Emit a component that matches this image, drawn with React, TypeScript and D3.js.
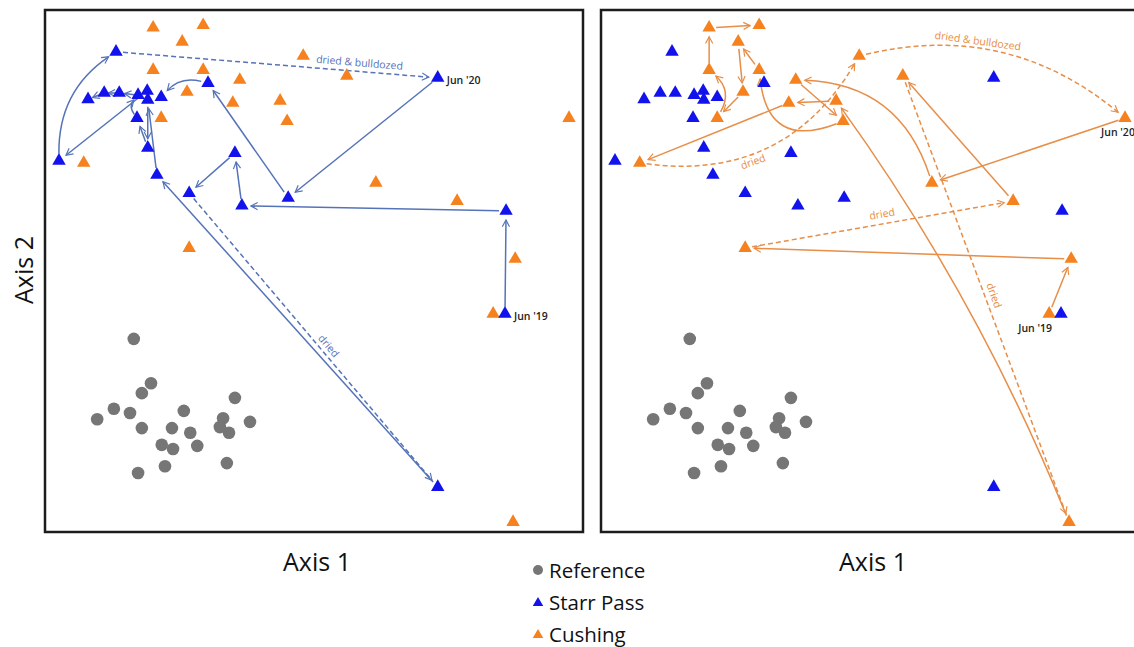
import React from 'react';
import * as d3 from 'd3';

// ordination scores (Axis 1, Axis 2), both axes scaled 0-100
const referenceSites: [number, number][] = [
  [16.5, 37.0], [19.7, 28.5], [18.0, 26.6], [12.8, 23.6], [15.8, 22.8], [9.7, 21.6],
  [18.0, 19.9], [23.6, 19.9], [25.8, 23.2], [27.0, 19.0], [21.7, 16.7], [23.8, 15.9],
  [28.3, 16.5], [22.3, 12.6], [17.3, 11.3], [35.3, 25.7], [33.1, 21.8], [32.5, 20.1],
  [34.2, 19.0], [38.1, 21.1], [33.8, 13.2],
];

const starrPass: [number, number][] = [
  [13.2, 92.0], [8.0, 82.9], [11.0, 84.1], [13.8, 84.1], [17.3, 83.7], [19.0, 84.5],
  [19.1, 82.8], [21.6, 83.3], [30.3, 86.0], [17.1, 79.3], [19.1, 73.6], [2.6, 71.1],
  [20.8, 68.4], [26.8, 64.9], [35.3, 72.6], [36.6, 62.5], [45.2, 64.0], [73.0, 87.0],
  [85.7, 61.5], [85.5, 41.8], [73.0, 8.6],
];

const cushing: [number, number][] = [
  [20.1, 96.6], [29.4, 97.1], [25.5, 93.9], [48.0, 91.2], [56.1, 87.4], [20.1, 88.5],
  [29.4, 88.5], [36.2, 86.6], [26.4, 84.3], [34.9, 82.2], [43.7, 82.6], [45.0, 78.7],
  [21.6, 79.3], [7.2, 70.7], [61.5, 66.9], [76.6, 63.4], [87.4, 52.3], [83.3, 41.8],
  [97.4, 79.3], [26.8, 54.4], [87.0, 1.9],
];

// trajectory steps: [from index, to index, dried (dashed)]
const starrPassSteps: [number, number, boolean][] = [
  [19, 18, false], [18, 15, false], [15, 14, false], [14, 13, false], [13, 20, true],
  [20, 12, false], [12, 6, false], [6, 10, false], [10, 9, false], [9, 4, false],
  [4, 3, false], [3, 2, false], [2, 1, false], [5, 11, false], [11, 0, false],
  [0, 17, true], [17, 16, false], [16, 8, false], [8, 7, false],
];

const cushingSteps: [number, number, boolean][] = [
  [17, 16, false], [16, 19, false], [19, 15, true], [15, 4, false], [4, 20, true],
  [20, 10, false], [10, 9, false], [9, 13, false], [13, 3, true], [3, 18, true],
  [18, 14, false], [14, 7, false], [7, 11, false], [11, 6, false], [6, 2, false],
  [2, 8, false], [8, 12, false], [12, 5, false], [5, 0, false], [0, 1, false],
];

// curvature of some steps, keyed "from-to"
const starrPassBends: Record<string, number> = { '11-0': 0.27, '8-7': -0.3, '9-4': 0.4 };
const cushingBends: Record<string, number> = {
  '20-10': -0.06, '13-3': -0.33, '3-18': 0.25, '14-7': -0.35, '11-6': 0.65, '12-5': -0.4,
};

// notes along dried steps: [from, to, text, t, offset]
const starrPassNotes: [number, number, string, number, number][] = [
  [0, 17, 'dried & bulldozed', 0.77, 8],
  [13, 20, 'dried', 0.54, 7],
];
const cushingNotes: [number, number, string, number, number][] = [
  [3, 18, 'dried & bulldozed', 0.41, 6],
  [13, 3, 'dried', 0.42, -8],
  [19, 15, 'dried', 0.52, 9],
  [4, 20, 'dried', 0.5, 8],
];

// date labels: [point index, text]
const starrPassDates: [number, string][] = [[17, "Jun '20"], [19, "Jun '19"]];
const cushingDates: [number, string][] = [[18, "Jun '20"], [17, "Jun '19"]];

const legendItems = ['Reference', 'Starr Pass', 'Cushing'];

const GREY = '#767676';
const BLUE = '#1212ec';
const ORANGE = '#f5821f';
const BLUE_LINE = '#5573b8';
const ORANGE_LINE = '#e78e48';
const FONT = '"Open Sans", Calibri, sans-serif';

const panelW = 538;
const panelTop = 10;
const panelBottom = 532;

type P = [number, number];

function stepGeometry(p0: P, p1: P, bend: number) {
  const dx = p1[0] - p0[0], dy = p1[1] - p0[1];
  const len = Math.hypot(dx, dy);
  const nx = dy / len, ny = -dx / len;
  const c: P = [(p0[0] + p1[0]) / 2 + bend * len * nx, (p0[1] + p1[1]) / 2 + bend * len * ny];
  const ax = c[0] - p0[0], ay = c[1] - p0[1], al = Math.hypot(ax, ay);
  const bx = p1[0] - c[0], by = p1[1] - c[1], bl = Math.hypot(bx, by);
  const r0 = Math.min(7, len * 0.2), r1 = Math.min(9, len * 0.28);
  const s: P = [p0[0] + (ax / al) * r0, p0[1] + (ay / al) * r0];
  const e: P = [p1[0] - (bx / bl) * r1, p1[1] - (by / bl) * r1];
  return { s, c, e };
}

const Panel = ({ x0, traj, steps, bends, notes, dates, lineColor, id, dateMode }: {
  x0: number; traj: P[]; steps: [number, number, boolean][]; bends: Record<string, number>;
  notes: [number, number, string, number, number][]; dates: [number, string][];
  lineColor: string; id: string; dateMode: 'right' | 'below';
}) => {
  const x = d3.scaleLinear().domain([0, 100]).range([x0, x0 + panelW]);
  const y = d3.scaleLinear().domain([0, 100]).range([panelBottom, panelTop]);
  const pos = (d: P): P => [x(d[0]), y(d[1])];
  const tri = d3.symbol().type(d3.symbolTriangle).size(78)();

  const stepPaths = steps.map(([a, b, dried]) => {
    const g = stepGeometry(pos(traj[a]), pos(traj[b]), bends[a + '-' + b] || 0);
    const p = d3.path();
    p.moveTo(g.s[0], g.s[1]);
    p.quadraticCurveTo(g.c[0], g.c[1], g.e[0], g.e[1]);
    return { d: p.toString(), dried, key: a + '-' + b };
  });

  const noteEls = notes.map(([a, b, text, t, off]) => {
    const g = stepGeometry(pos(traj[a]), pos(traj[b]), bends[a + '-' + b] || 0);
    const u = 1 - t;
    const px = u * u * g.s[0] + 2 * u * t * g.c[0] + t * t * g.e[0];
    const py = u * u * g.s[1] + 2 * u * t * g.c[1] + t * t * g.e[1];
    const tx = 2 * u * (g.c[0] - g.s[0]) + 2 * t * (g.e[0] - g.c[0]);
    const ty = 2 * u * (g.c[1] - g.s[1]) + 2 * t * (g.e[1] - g.c[1]);
    const tl = Math.hypot(tx, ty);
    const lx = px + (ty / tl) * off, ly = py + (-tx / tl) * off;
    let ang = (Math.atan2(ty, tx) * 180) / Math.PI;
    if (ang > 90) ang -= 180;
    if (ang < -90) ang += 180;
    return (
      <text key={text + a} transform={`translate(${lx},${ly}) rotate(${ang})`} textAnchor="middle"
        dominantBaseline="middle" fontSize={10.5} fill={lineColor} fontFamily={FONT}>{text}</text>
    );
  });

  return (
    <g>
      <defs>
        <marker id={'head-' + id} viewBox="0 0 10 10" refX={8.5} refY={5} markerWidth={9} markerHeight={9}
          markerUnits="userSpaceOnUse" orient="auto">
          <path d="M1,1 L8.5,5 L1,9" fill="none" stroke={lineColor} strokeWidth={1.3} />
        </marker>
      </defs>
      {referenceSites.map((d, i) => (
        <circle key={'r' + i} cx={x(d[0])} cy={y(d[1])} r={6.3} fill={GREY} />
      ))}
      {stepPaths.map(s => (
        <path key={s.key} d={s.d} fill="none" stroke={lineColor} strokeWidth={1.5}
          strokeDasharray={s.dried ? '5,3' : undefined} markerEnd={`url(#head-${id})`} />
      ))}
      {noteEls}
      {cushing.map((d, i) => (
        <path key={'c' + i} d={tri!} transform={`translate(${x(d[0])},${y(d[1])})`} fill={ORANGE} />
      ))}
      {starrPass.map((d, i) => (
        <path key={'s' + i} d={tri!} transform={`translate(${x(d[0])},${y(d[1])})`} fill={BLUE} />
      ))}
      {dates.map(([i, text]) => {
        const [px, py] = pos(traj[i]);
        return dateMode === 'right' ? (
          <text key={text} x={px + 9} y={py + 6} fontSize={10.5} fontWeight={600} fill="#222" fontFamily={FONT}>{text}</text>
        ) : (
          <text key={text} x={px - (text.includes('19') ? 14 : 7)} y={py + 18} textAnchor="middle" fontSize={10.5}
            fontWeight={600} fill="#222" fontFamily={FONT}>{text}</text>
        );
      })}
      <rect x={x0} y={panelTop} width={panelW} height={panelBottom - panelTop} fill="none"
        stroke="#1c1c1c" strokeWidth={2.5} />
      <text x={x0 + panelW / 2 + 3} y={571} textAnchor="middle" fontSize={25} fill="#111" fontFamily={FONT}>Axis 1</text>
    </g>
  );
};

const App = () => {
  const legendY = d3.scalePoint<string>().domain(legendItems).range([571, 635]);
  const smallTri = d3.symbol().type(d3.symbolTriangle).size(48)();
  return (
    <div style={{ position: 'absolute', left: 0, top: 0, background: '#fff' }}>
      <svg width={1134} height={647} style={{ display: 'block' }}>
        <rect width={1134} height={647} fill="#fff" />
        <Panel x0={45} traj={starrPass} steps={starrPassSteps} bends={starrPassBends} notes={starrPassNotes}
          dates={starrPassDates} lineColor={BLUE_LINE} id="sp" dateMode="right" />
        <Panel x0={601} traj={cushing} steps={cushingSteps} bends={cushingBends} notes={cushingNotes}
          dates={cushingDates} lineColor={ORANGE_LINE} id="cu" dateMode="below" />
        <text transform="translate(33,270) rotate(-90)" textAnchor="middle" fontSize={25} fill="#111"
          fontFamily={FONT}>Axis 2</text>
        {legendItems.map((name, i) => {
          const ly = legendY(name)!;
          return (
            <g key={name}>
              {i === 0 ? (
                <circle cx={538} cy={ly - 1} r={5} fill={GREY} />
              ) : (
                <path d={smallTri!} transform={`translate(538,${ly})`} fill={i === 1 ? BLUE : ORANGE} />
              )}
              <text x={549} y={ly + 7} fontSize={20.5} fill="#111" fontFamily={FONT}>{name}</text>
            </g>
          );
        })}
      </svg>
    </div>
  );
};

export default App;
